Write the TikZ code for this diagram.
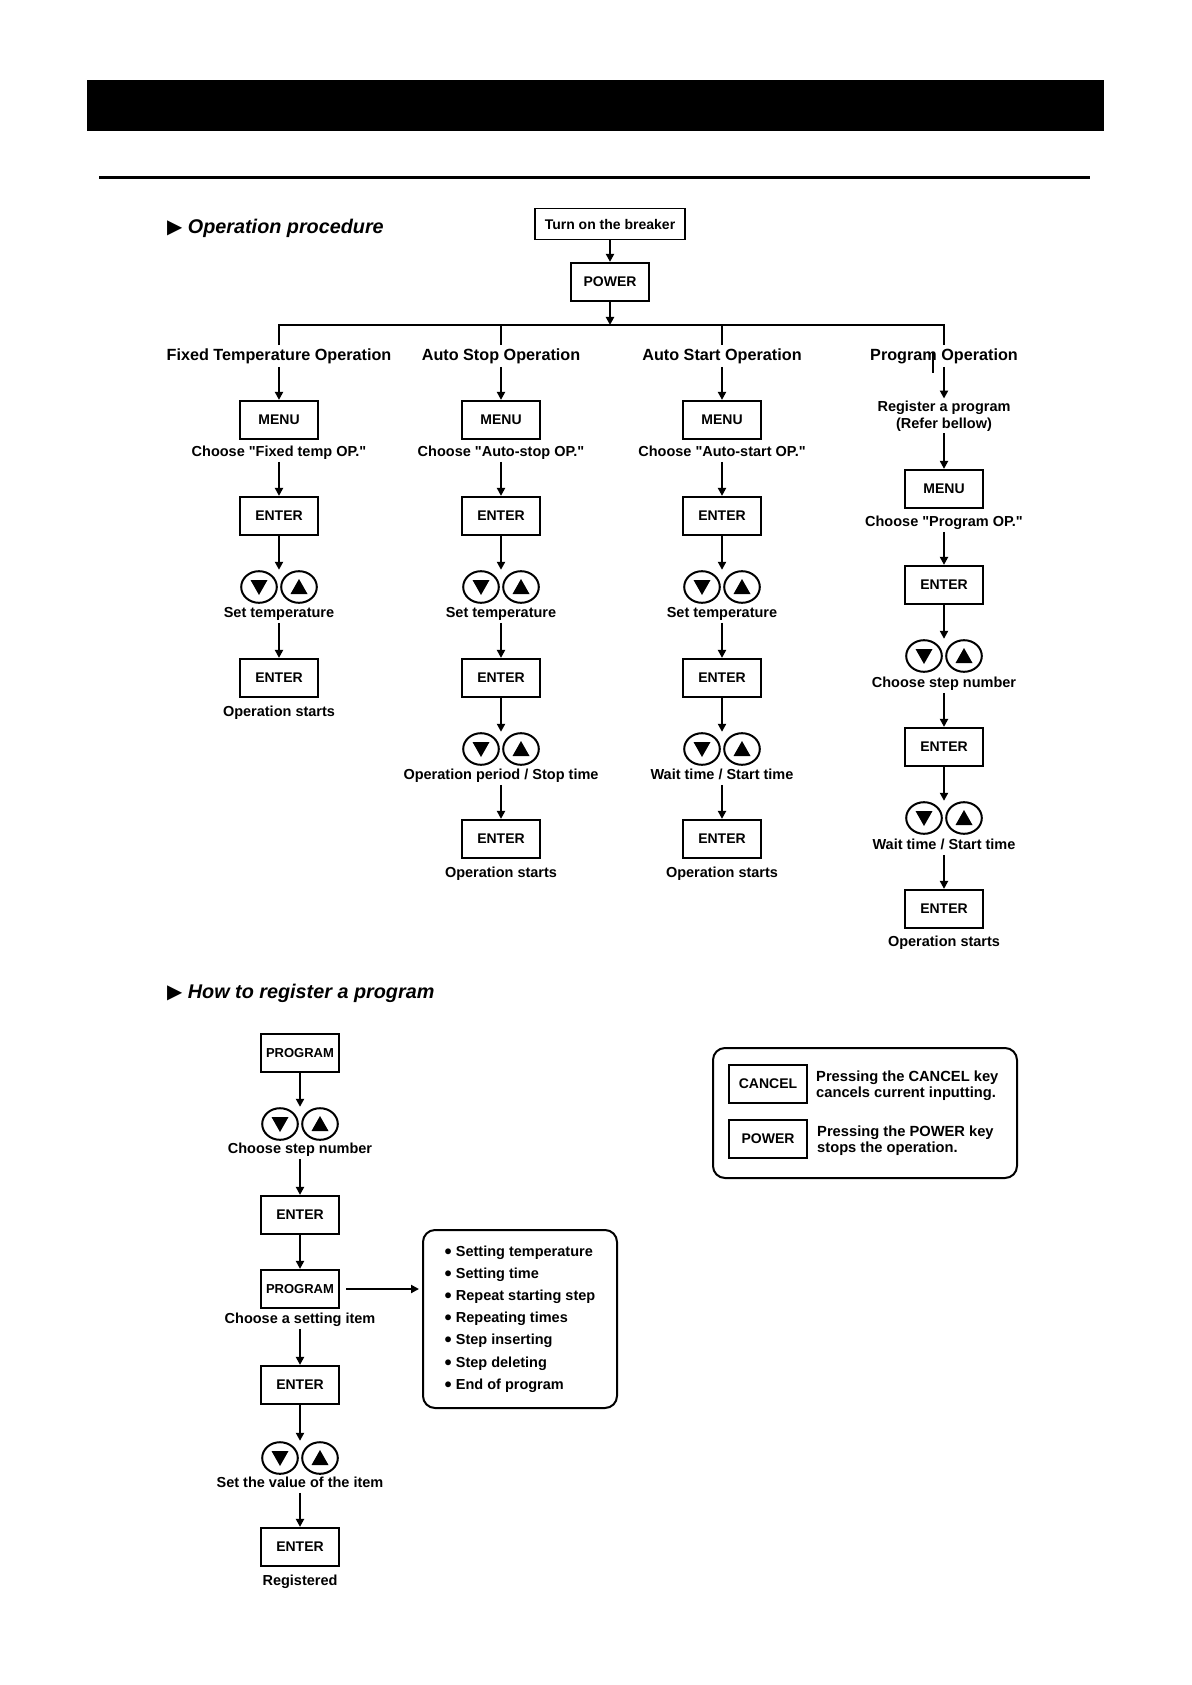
\documentclass[tikz,border=0pt]{standalone}
\usepackage{fontspec}
\setmainfont[Ligatures=TeXOff]{Liberation Sans}
\newfontfamily\symfont{DejaVu Sans}
\usetikzlibrary{arrows.meta,calc}
\newcommand\lblfont{\fontsize{14.5}{16}\selectfont\bfseries}
\newcommand\keyfont{\fontsize{14}{16}\selectfont\bfseries}
\newcommand\ttlfont{\fontsize{16.2}{18}\selectfont\bfseries}
\newcommand\hdfont{\fontsize{19.8}{22}\selectfont\bfseries\itshape}
\newcommand\legfont{\fontsize{14.7}{16}\selectfont\bfseries}
\newcommand\listfont{\fontsize{14.5}{22.2}\selectfont\bfseries}
\newcommand\bul{\raisebox{-2pt}{\scalebox{1.4}{\textbullet}}}
\tikzset{
  keybox/.style={draw, line width=2.2pt, minimum width=78pt, minimum height=38pt, inner sep=0pt, font=\keyfont},
  lbl/.style={inner sep=2pt, text height=10.5pt, text depth=3pt, font=\lblfont, yshift=-3pt},
  ttl/.style={inner sep=3pt, text height=12pt, text depth=3.5pt, font=\ttlfont},
  pad/.style={minimum width=78pt, minimum height=34pt, inner sep=0pt},
  arr/.style={line width=2pt, -{Triangle[length=8pt,width=8pt]}},
  ln/.style={line width=2pt},
}
\newcommand\updown[1]{%
  \draw[line width=2pt] ($(#1)+(-20,0)$) ellipse [x radius=17.8pt, y radius=15.8pt];
  \draw[line width=2pt] ($(#1)+(20,0)$) ellipse [x radius=17.8pt, y radius=15.8pt];
  \fill ($(#1)+(-28.5,-7)$) -- ($(#1)+(-11.5,-7)$) -- ($(#1)+(-20,8)$) -- cycle;
  \fill ($(#1)+(11.5,7)$) -- ($(#1)+(28.5,7)$) -- ($(#1)+(20,-8)$) -- cycle;
}
\begin{document}
\begin{tikzpicture}[x=1pt,y=-1pt]
\useasboundingbox (0,0) rectangle (1191,1685);
\fill[white] (0,0) rectangle (1191,1685);
% header
\fill[black] (87,80) rectangle (1104,131);
\fill[black] (99,176) rectangle (1090,179);
\node[anchor=west, font=\hdfont, inner sep=0pt] (h1) at (167,228) {{\symfont ▶} Operation procedure};
% top
\node[keybox, minimum width=150pt, minimum height=31pt, line width=1.8pt] (brk) at (610,224) {Turn on the breaker};
\node[keybox] (pw) at (610,282) {POWER};
\coordinate (hj) at (610,325);
\draw[arr] (brk) -- (pw);
\draw[arr] (pw) -- (hj);
\coordinate (t1) at (279,325);
\coordinate (t2) at (501,325);
\coordinate (t3) at (722,325);
\coordinate (t4) at (944,325);
\node[ttl] (ft1) at (279,356) {Fixed Temperature Operation};
\node[ttl] (ft2) at (501,356) {Auto Stop Operation};
\node[ttl] (ft3) at (722,356) {Auto Start Operation};
\node[ttl] (ft4) at (944,356) {Program Operation};
\draw[ln] (ft1) -- (t1) -- (t4) -- (ft4);
\draw[ln] (t2) -- (ft2);
\draw[ln] (t3) -- (ft3);
\draw[ln] (933,353) -- (933,373);
% column 1
\node[keybox] (m1) at (279,420) {MENU};
\node[lbl] (c1) at (279,450) {Choose "Fixed temp OP."};
\node[keybox] (e1a) at (279,516) {ENTER};
\node[pad] (k1a) at (279,587) {};
\node[lbl] (s1a) at (279,611) {Set temperature};
\node[keybox] (e1b) at (279,678) {ENTER};
\node[lbl] (o1) at (279,710) {Operation starts};
\draw[arr] (ft1) -- (m1);
\draw[arr] (c1) -- (e1a);
\draw[arr] (e1a) -- (k1a);
\draw[arr] (s1a) -- (e1b);
\updown{k1a}
% column 2
\node[keybox] (m2) at (501,420) {MENU};
\node[lbl] (c2) at (501,450) {Choose "Auto-stop OP."};
\node[keybox] (e2a) at (501,516) {ENTER};
\node[pad] (k2a) at (501,587) {};
\node[lbl] (s2a) at (501,611) {Set temperature};
\node[keybox] (e2b) at (501,678) {ENTER};
\node[pad] (k2b) at (501,749) {};
\node[lbl] (s2b) at (501,773) {Operation period / Stop time};
\node[keybox] (e2c) at (501,839) {ENTER};
\node[lbl] (o2) at (501,871) {Operation starts};
\draw[arr] (ft2) -- (m2);
\draw[arr] (c2) -- (e2a);
\draw[arr] (e2a) -- (k2a);
\draw[arr] (s2a) -- (e2b);
\draw[arr] (e2b) -- (k2b);
\draw[arr] (s2b) -- (e2c);
\updown{k2a}
\updown{k2b}
% column 3
\node[keybox] (m3) at (722,420) {MENU};
\node[lbl] (c3) at (722,450) {Choose "Auto-start OP."};
\node[keybox] (e3a) at (722,516) {ENTER};
\node[pad] (k3a) at (722,587) {};
\node[lbl] (s3a) at (722,611) {Set temperature};
\node[keybox] (e3b) at (722,678) {ENTER};
\node[pad] (k3b) at (722,749) {};
\node[lbl] (s3b) at (722,773) {Wait time / Start time};
\node[keybox] (e3c) at (722,839) {ENTER};
\node[lbl] (o3) at (722,871) {Operation starts};
\draw[arr] (ft3) -- (m3);
\draw[arr] (c3) -- (e3a);
\draw[arr] (e3a) -- (k3a);
\draw[arr] (s3a) -- (e3b);
\draw[arr] (e3b) -- (k3b);
\draw[arr] (s3b) -- (e3c);
\updown{k3a}
\updown{k3b}
% column 4
\node[inner sep=2pt, align=center, font=\fontsize{14.5}{17}\selectfont\bfseries] (reg) at (944,416) {Register a program\\(Refer bellow)};
\node[keybox] (m4) at (944,489) {MENU};
\node[lbl] (c4) at (944,520) {Choose "Program OP."};
\node[keybox] (e4a) at (944,585) {ENTER};
\node[pad] (k4a) at (944,656) {};
\node[lbl] (s4a) at (944,681) {Choose step number};
\node[keybox] (e4b) at (944,747) {ENTER};
\node[pad] (k4b) at (944,818) {};
\node[lbl] (s4b) at (944,843) {Wait time / Start time};
\node[keybox] (e4c) at (944,909) {ENTER};
\node[lbl] (o4) at (944,940) {Operation starts};
\draw[arr] (ft4) -- (reg);
\draw[arr] (reg) -- (m4);
\draw[arr] (c4) -- (e4a);
\draw[arr] (e4a) -- (k4a);
\draw[arr] (s4a) -- (e4b);
\draw[arr] (e4b) -- (k4b);
\draw[arr] (s4b) -- (e4c);
\updown{k4a}
\updown{k4b}
% register a program
\node[anchor=west, font=\hdfont, inner sep=0pt] (h2) at (167,993) {{\symfont ▶} How to register a program};
\node[keybox, font=\fontsize{13}{15}\selectfont\bfseries] (p1) at (300,1053) {PROGRAM};
\node[pad] (k5a) at (300,1124) {};
\node[lbl] (s5a) at (300,1147) {Choose step number};
\node[keybox] (e5a) at (300,1215) {ENTER};
\node[keybox, font=\fontsize{13}{15}\selectfont\bfseries] (p2) at (300,1289) {PROGRAM};
\node[lbl] (s5b) at (300,1317) {Choose a setting item};
\node[keybox] (e5b) at (300,1385) {ENTER};
\node[pad] (k5b) at (300,1458) {};
\node[lbl] (s5c) at (300,1481) {Set the value of the item};
\node[keybox] (e5c) at (300,1547) {ENTER};
\node[lbl] (o5) at (300,1579) {Registered};
\draw[arr] (p1) -- (k5a);
\draw[arr] (s5a) -- (e5a);
\draw[arr] (e5a) -- (p2);
\draw[arr] (s5b) -- (e5b);
\draw[arr] (e5b) -- (k5b);
\draw[arr] (s5c) -- (e5c);
\updown{k5a}
\updown{k5b}
\node[draw, line width=2pt, rounded corners=12pt, minimum width=194pt, minimum height=178pt, align=left, inner sep=0pt, font=\listfont] (list) at (520,1319) {\bul\ Setting temperature\\\bul\ Setting time\\\bul\ Repeat starting step\\\bul\ Repeating times\\\bul\ Step inserting\\\bul\ Step deleting\\\bul\ End of program};
\draw[arr, shorten <=6pt, shorten >=3pt] (p2.east) -- (list.west |- p2.east);
% legend
\node[draw, line width=2pt, rounded corners=12pt, minimum width=304pt, minimum height=130pt] (leg) at (865,1113) {};
\node[keybox] (kc) at (768,1084) {CANCEL};
\node[keybox] (kp) at (768,1139) {POWER};
\node[anchor=west, align=left, font=\legfont, inner sep=0pt] (tc) at (816,1086) {Pressing the CANCEL key\\cancels current inputting.};
\node[anchor=west, align=left, font=\legfont, inner sep=0pt] (tp) at (817,1141) {Pressing the POWER key\\stops the operation.};
\end{tikzpicture}
\end{document}
